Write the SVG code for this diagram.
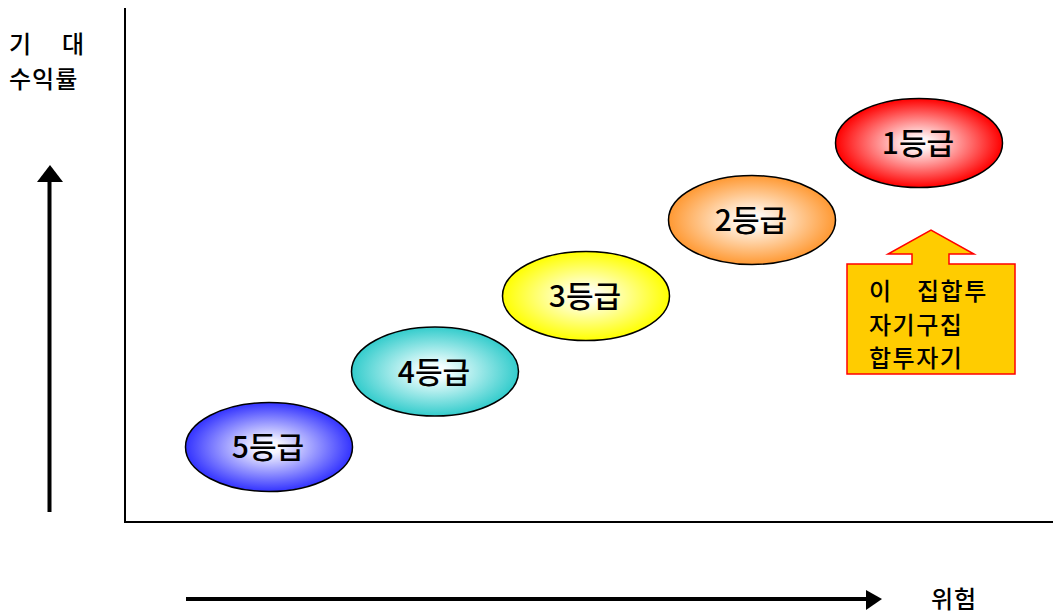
<svg xmlns="http://www.w3.org/2000/svg" width="1053" height="613" viewBox="0 0 1053 613">
<style>
text{font-family:"Noto Sans CJK KR","Liberation Sans",sans-serif;fill:#000;font-weight:500}
.lab{font-size:30px;text-anchor:middle}
.ax{font-size:24px;letter-spacing:1px}
.co{font-size:24px;letter-spacing:1.5px}
.el{stroke:#000;stroke-width:1.5}
.axis{stroke:#000;stroke-width:2;fill:none}
.arr{stroke:#000;stroke-width:4;fill:none}
</style>
<defs>
<radialGradient id="gBlue" cx="50%" cy="50%" r="50%"><stop offset="0" stop-color="#ffffff"/><stop offset="0.15" stop-color="#f4f4ff"/><stop offset="1" stop-color="#3333ff"/></radialGradient>
<radialGradient id="gTeal" cx="50%" cy="50%" r="50%"><stop offset="0" stop-color="#ffffff"/><stop offset="0.15" stop-color="#f4ffff"/><stop offset="1" stop-color="#33cccc"/></radialGradient>
<radialGradient id="gYellow" cx="50%" cy="50%" r="50%"><stop offset="0" stop-color="#ffffff"/><stop offset="0.15" stop-color="#ffffee"/><stop offset="1" stop-color="#ffff00"/></radialGradient>
<radialGradient id="gOrange" cx="50%" cy="50%" r="50%"><stop offset="0" stop-color="#ffffff"/><stop offset="0.15" stop-color="#fff8f0"/><stop offset="1" stop-color="#ff9933"/></radialGradient>
<radialGradient id="gRed" cx="50%" cy="50%" r="50%"><stop offset="0" stop-color="#ffffff"/><stop offset="0.15" stop-color="#fff0f0"/><stop offset="1" stop-color="#ff0000"/></radialGradient>
</defs>
<g id="axes">
<polyline class="axis" points="125,8 125,522 1053,522"/>
</g>
<g id="connectors">
<line class="arr" x1="49.5" y1="512" x2="49.5" y2="180"/>
<polygon points="50,165 37,182 63,182" fill="#000"/>
<line class="arr" x1="186" y1="599" x2="868" y2="599"/>
<polygon points="882,599 866,590 866,610" fill="#000"/>
</g>
<g id="ylabel">
<text class="ax" x="9" y="53">기</text>
<text class="ax" x="62" y="53">대</text>
<text class="ax" x="9" y="88">수익률</text>
</g>
<g id="xlabel">
<text class="ax" x="931" y="608">위험</text>
</g>
<g id="grade5">
<ellipse class="el" cx="269" cy="447" rx="83.5" ry="44.5" fill="url(#gBlue)"/>
<text class="lab" x="268" y="458">5등급</text>
</g>
<g id="grade4">
<ellipse class="el" cx="435" cy="371.5" rx="83.5" ry="44.5" fill="url(#gTeal)"/>
<text class="lab" x="434" y="383">4등급</text>
</g>
<g id="grade3">
<ellipse class="el" cx="586" cy="296" rx="83.5" ry="44.5" fill="url(#gYellow)"/>
<text class="lab" x="585" y="307">3등급</text>
</g>
<g id="grade2">
<ellipse class="el" cx="752" cy="220" rx="83.5" ry="44.5" fill="url(#gOrange)"/>
<text class="lab" x="751" y="231">2등급</text>
</g>
<g id="grade1">
<ellipse class="el" cx="919" cy="143" rx="83.5" ry="44.5" fill="url(#gRed)"/>
<text class="lab" x="918" y="154">1등급</text>
</g>
<g id="callout">
<polygon points="847,264 912,264 912,254 888,254 931,230 974,254 949,254 949,264 1015,264 1015,374 847,374" fill="#ffcc00" stroke="#ff0000" stroke-width="1.5"/>
<text class="co" x="869" y="300">이</text>
<text class="co" x="917" y="300">집합투</text>
<text class="co" x="869" y="334">자기구집</text>
<text class="co" x="869" y="367">합투자기</text>
</g>
</svg>
